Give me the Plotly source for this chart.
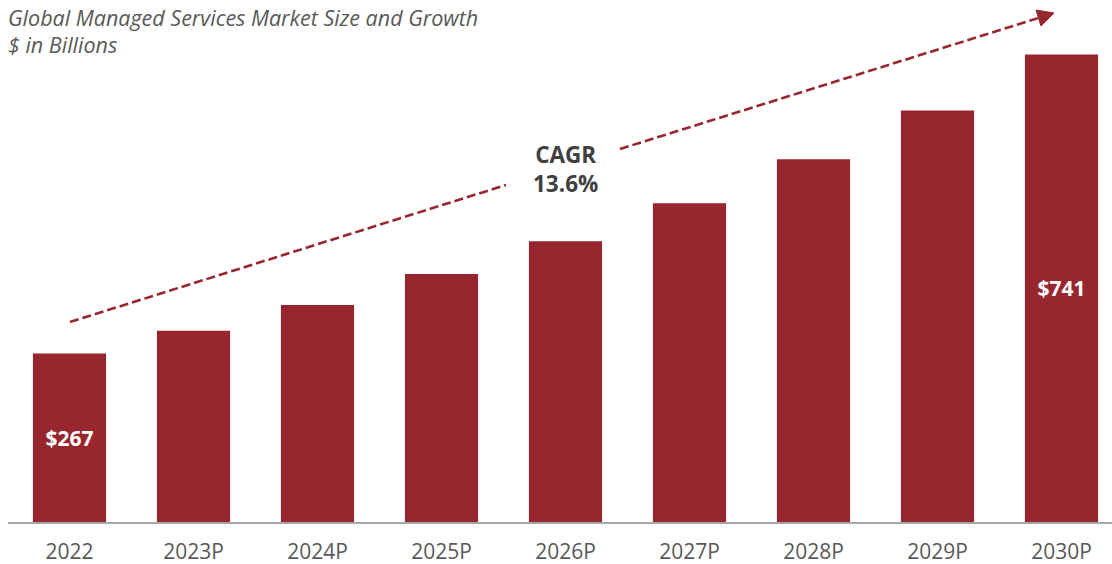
import plotly.graph_objects as go

categories = ["2022", "2023P", "2024P", "2025P", "2026P", "2027P", "2028P", "2029P", "2030P"]
values = [267, 303, 344, 393, 445, 505, 575, 652, 741]
label_texts = ["$267", "", "", "", "", "", "", "", "$741"]
title_line1 = "Global Managed Services Market Size and Growth"
title_line2 = "$ in Billions"
cagr_text = "CAGR<br>13.6%"

W, H = 1112, 564
ML, MR, MT, MB = 8, 0, 0, 42
PW, PH = W - ML - MR, H - MT - MB

def px(x):
    return (x - ML) / PW

def py(y):
    return (H - MB - y) / PH

BAR = "#97262E"
FONT = "Open Sans"

fig = go.Figure()
fig.add_trace(go.Bar(
    x=categories, y=values, marker=dict(color=BAR, line=dict(width=0)),
    text=label_texts, textposition="inside", insidetextanchor="middle",
    textfont=dict(family=FONT, size=21, color="white", weight="bold"),
    hoverinfo="skip", showlegend=False,
))

dash_line = dict(color=BAR, width=2.6, dash="9px,4px")
fig.add_shape(type="line", xref="paper", yref="paper",
              x0=px(70), y0=py(322), x1=px(506), y1=py(185), line=dash_line)
fig.add_shape(type="line", xref="paper", yref="paper",
              x0=px(620), y0=py(149), x1=px(1040), y1=py(17.5), line=dash_line)
fig.add_shape(type="path", xref="paper", yref="paper",
              path=f"M {px(1036)} {py(10)} L {px(1054)} {py(13)} L {px(1041)} {py(26)} Z",
              fillcolor=BAR, line=dict(color=BAR, width=1))

fig.add_annotation(xref="paper", yref="paper", x=px(565), y=py(169), text=cagr_text,
                   showarrow=False, font=dict(family=FONT, size=22.5, color="#404040", weight="bold"),
                   xanchor="center", yanchor="middle", align="center")
fig.add_annotation(xref="paper", yref="paper", x=px(6), y=py(17), text=title_line1,
                   showarrow=False, font=dict(family=FONT, size=21.5, color="#595959", style="italic"),
                   xanchor="left", yanchor="middle")
fig.add_annotation(xref="paper", yref="paper", x=px(6), y=py(45), text=title_line2,
                   showarrow=False, font=dict(family=FONT, size=21.5, color="#595959", style="italic"),
                   xanchor="left", yanchor="middle")

ymax = PH / 0.631
fig.update_layout(
    width=W, height=H, margin=dict(l=ML, r=MR, t=MT, b=MB),
    paper_bgcolor="white", plot_bgcolor="white",
    bargap=0.41,
    xaxis=dict(range=[-0.5 + (ML - 7.5) / 124.0, -0.5 + (ML - 7.5 + PW) / 124.0],
               showline=True, linecolor="#A6A6A6", linewidth=2,
               ticks="", showgrid=False, zeroline=False, ticklabelstandoff=10,
               tickfont=dict(family=FONT, size=21, color="#595959")),
    yaxis=dict(range=[0, ymax], visible=False, showgrid=False, zeroline=False),
    font=dict(family=FONT),
)
fig.write_html("out.html", config={"displayModeBar": False},
               post_script="document.body.style.margin='0';")
